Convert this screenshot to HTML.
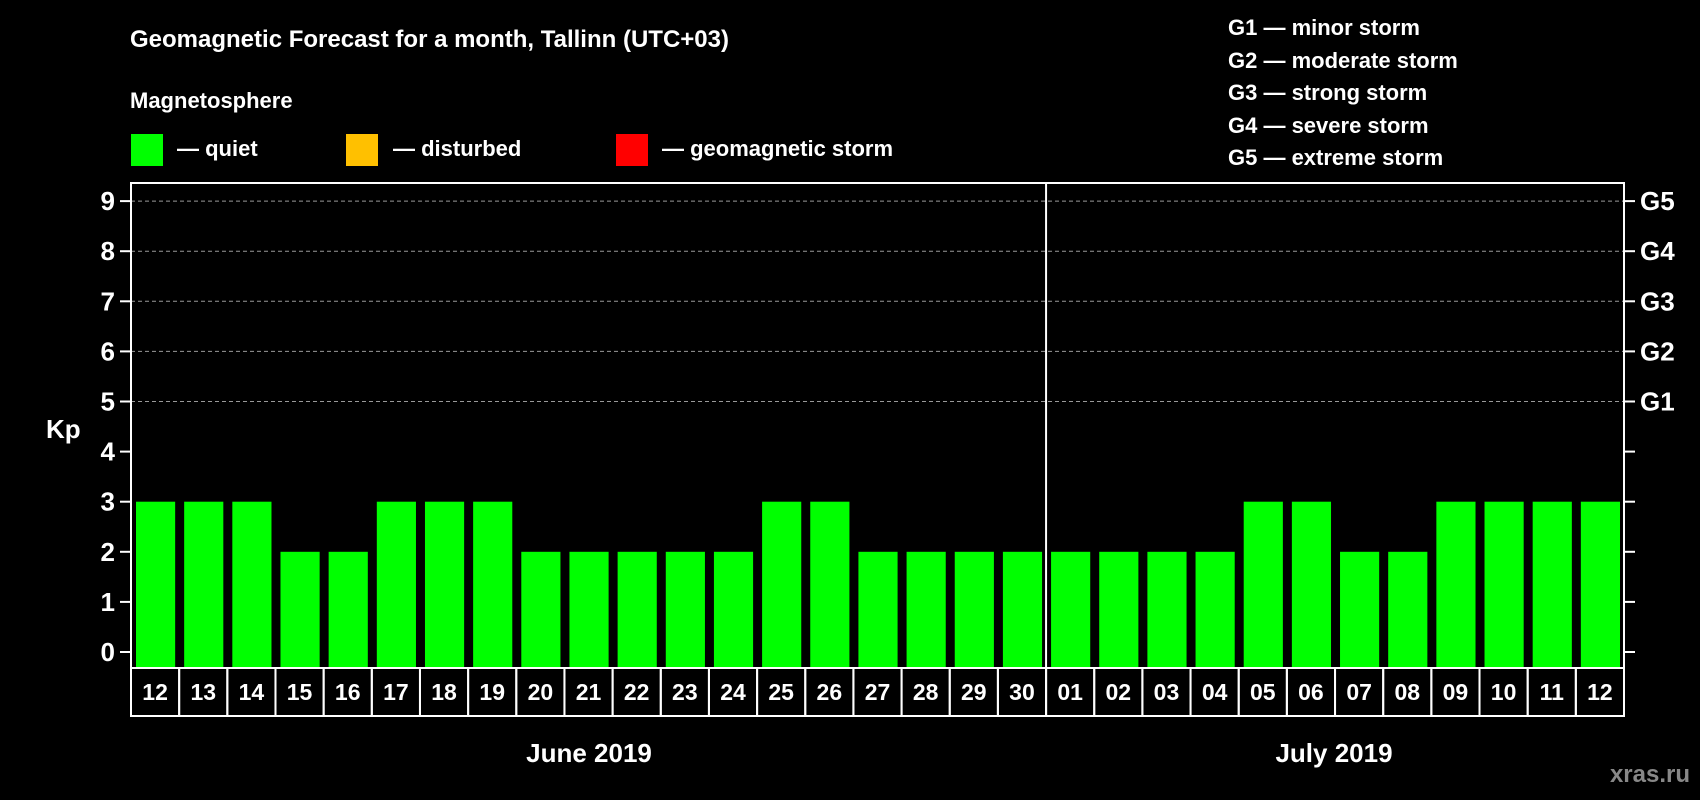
<!DOCTYPE html>
<html><head><meta charset="utf-8"><style>
body{margin:0;background:#000;width:1700px;height:800px;overflow:hidden}
svg{display:block}
text{font-family:"Liberation Sans",Arial,sans-serif;font-weight:bold;fill:#fff}
</style></head><body>
<svg id="chart" width="1700" height="800">
<text x="130" y="47" font-size="24">Geomagnetic Forecast for a month, Tallinn (UTC+03)</text>
<text x="130" y="108" font-size="22">Magnetosphere</text>
<rect x="131" y="134" width="32" height="32" fill="#00ff00"/>
<text x="177" y="156" font-size="22">— quiet</text>
<rect x="346" y="134" width="32" height="32" fill="#ffc000"/>
<text x="393" y="156" font-size="22">— disturbed</text>
<rect x="616" y="134" width="32" height="32" fill="#ff0000"/>
<text x="662" y="156" font-size="22">— geomagnetic storm</text>
<g font-size="22">
<text x="1228" y="35">G1 — minor storm</text>
<text x="1228" y="68">G2 — moderate storm</text>
<text x="1228" y="100">G3 — strong storm</text>
<text x="1228" y="133">G4 — severe storm</text>
<text x="1228" y="165">G5 — extreme storm</text>
</g>
<text x="46" y="438" font-size="26">Kp</text>
<text x="589" y="762" font-size="26" text-anchor="middle">June 2019</text>
<text x="1334" y="762" font-size="26" text-anchor="middle">July 2019</text>
<text x="1690" y="782" font-size="24" text-anchor="end" style="fill:#888">xras.ru</text>
<g id="plot"></g>
</svg>
<script>
const days=["12","13","14","15","16","17","18","19","20","21","22","23","24","25","26","27","28","29","30","01","02","03","04","05","06","07","08","09","10","11","12"];
const kp=[3,3,3,2,2,3,3,3,2,2,2,2,2,3,3,2,2,2,2,2,2,2,2,3,3,2,2,3,3,3,3];
const yTicks=[0,1,2,3,4,5,6,7,8,9];
const gLabels=["G1","G2","G3","G4","G5"];
const gLevels=[5,6,7,8,9];
const monthSplit=19;
const L=131,R=1624,T=183,B=668;
const slot=(R-L)/days.length;
const y=v=>652-v*50.1;
const x=i=>L+i*slot;
const NS="http://www.w3.org/2000/svg";
const g=document.getElementById('plot');
function mk(t,a){const e=document.createElementNS(NS,t);for(const k in a)e.setAttribute(k,a[k]);g.appendChild(e);return e;}
yTicks.forEach(v=>{
 if(v>=5){const l=mk('line',{x1:L,x2:R,y1:y(v),y2:y(v),stroke:'#999','stroke-dasharray':'4,3','stroke-width':1});
 
 }
 const t1=mk('line',{x1:L-11,x2:L,y1:y(v),y2:y(v),stroke:'#fff','stroke-width':2});
 
 
 const t2=mk('line',{x1:R,x2:R+11,y1:y(v),y2:y(v),stroke:'#fff','stroke-width':2});
 
 
 const tx=mk('text',{x:L-16,y:y(v)+9,'font-size':26,'text-anchor':'end'});tx.textContent=v;
 
 
});
gLabels.forEach((s,i)=>{const t=mk('text',{x:R+16,y:y(gLevels[i])+9,'font-size':26});t.textContent=s;
 
 });
kp.forEach((v,i)=>{
 const c=v>=5?'#ff0000':(v>=4?'#ffc000':'#00ff00');
 const b=mk('rect',{x:x(i)+5,y:y(v),width:slot-9,height:B-1-y(v),fill:c});
 
 
 const bx=mk('rect',{x:x(i),y:B,width:slot,height:48,fill:'none',stroke:'#fff','stroke-width':2});
 
 
 const t=mk('text',{x:x(i)+slot/2,y:B+32,'font-size':23,'text-anchor':'middle'});t.textContent=days[i];
 
 
});
const fr=mk('rect',{x:L,y:T,width:R-L,height:B-T,fill:'none',stroke:'#fff','stroke-width':2});


const ml=mk('line',{x1:x(monthSplit),x2:x(monthSplit),y1:T,y2:B+48,stroke:'#fff','stroke-width':2});


</script>
</body></html>
